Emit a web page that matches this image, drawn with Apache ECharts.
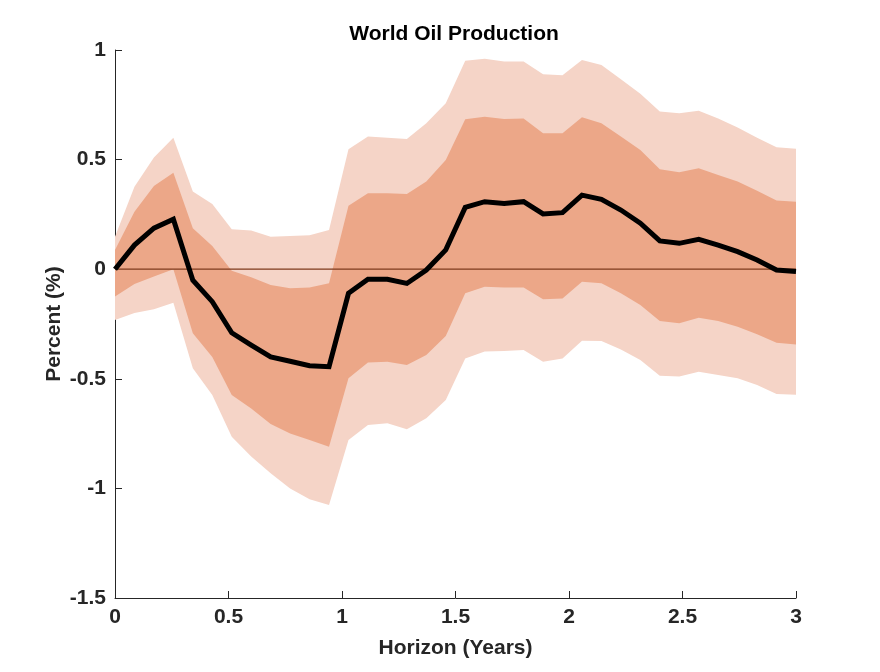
<!DOCTYPE html>
<html>
<head>
<meta charset="utf-8">
<script src="https://cdn.jsdelivr.net/npm/echarts@6/dist/echarts.min.js"></script>
<style>
html,body{margin:0;padding:0;background:#fff;}
#c{width:880px;height:672px;}
</style>
</head>
<body>
<div id="c"></div>
<script>
// Horizon in years: 36 points from 0 to 3
const N = 36;
const horizon = Array.from({length: N}, (_, i) => 3 * i / (N - 1));

const median = [0, 0.11, 0.187, 0.228, -0.05, -0.148, -0.29, -0.346, -0.40, -0.42, -0.44, -0.445,
  -0.11, -0.046, -0.046, -0.065, -0.004, 0.088, 0.282, 0.308, 0.30, 0.308, 0.252, 0.258,
  0.338, 0.319, 0.27, 0.21, 0.129, 0.118, 0.136, 0.11, 0.08, 0.042, -0.004, -0.011];

const innerUpper = [0.088, 0.262, 0.38, 0.44, 0.187, 0.106, -0.007, -0.037, -0.072, -0.087, -0.084, -0.064,
  0.29, 0.346, 0.346, 0.343, 0.40, 0.498, 0.684, 0.696, 0.685, 0.687, 0.62, 0.62,
  0.693, 0.666, 0.605, 0.544, 0.456, 0.442, 0.46, 0.43, 0.40, 0.358, 0.313, 0.308];

const innerLower = [-0.125, -0.068, -0.033, 0.0, -0.292, -0.40, -0.574, -0.635, -0.706, -0.749, -0.779, -0.81,
  -0.498, -0.426, -0.422, -0.437, -0.391, -0.305, -0.11, -0.08, -0.084, -0.084, -0.137, -0.134,
  -0.057, -0.064, -0.11, -0.163, -0.236, -0.247, -0.221, -0.236, -0.262, -0.297, -0.335, -0.343];

const outerUpper = [0.148, 0.376, 0.51, 0.60, 0.354, 0.297, 0.182, 0.176, 0.148, 0.151, 0.155, 0.179,
  0.547, 0.605, 0.60, 0.594, 0.666, 0.757, 0.951, 0.96, 0.948, 0.948, 0.889, 0.885,
  0.954, 0.932, 0.866, 0.80, 0.719, 0.711, 0.723, 0.688, 0.647, 0.60, 0.556, 0.55];

const outerLower = [-0.232, -0.20, -0.183, -0.153, -0.452, -0.574, -0.764, -0.855, -0.931, -1.0, -1.05, -1.076,
  -0.779, -0.711, -0.703, -0.73, -0.68, -0.597, -0.407, -0.376, -0.373, -0.369, -0.422, -0.407,
  -0.326, -0.328, -0.366, -0.414, -0.486, -0.49, -0.468, -0.483, -0.498, -0.528, -0.569, -0.573];

const xTicks = [0, 0.5, 1, 1.5, 2, 2.5, 3];
const yTicks = [-1.5, -1, -0.5, 0, 0.5, 1];

const LIGHT = '#F5D4C7';
const DARK = '#ECA788';
const TXT = '#262626';
const FONT = '"Liberation Sans", Arial, Helvetica, sans-serif';

const pairs = arr => horizon.map((x, i) => [x, arr[i]]);
const bandRows = (lo, hi) => horizon.map((x, i) => [x, lo[i], hi[i]]);

function bandSeries(name, lo, hi, color, z) {
  return {
    type: 'custom', name, silent: true, z,
    data: bandRows(lo, hi),
    encode: {x: 0, y: [1, 2]},
    renderItem: (params, api) => {
      if (params.dataIndex !== 0) return null;
      const top = [], bottom = [];
      for (let i = 0; i < horizon.length; i++) {
        top.push(api.coord([horizon[i], hi[i]]));
        bottom.push(api.coord([horizon[i], lo[i]]));
      }
      return {
        type: 'polygon',
        shape: {points: top.concat(bottom.reverse())},
        style: {fill: color, stroke: null}
      };
    }
  };
}

const chart = echarts.init(document.getElementById('c'), null, {renderer: 'canvas'});
chart.setOption({
  animation: false,
  backgroundColor: '#ffffff',
  title: {
    text: 'World Oil Production', left: 449, top: 19, textAlign: 'center',
    textStyle: {fontFamily: FONT, fontWeight: 'bold', fontSize: 21, color: '#000'}
  },
  grid: {left: 115, right: 84, top: 50, bottom: 74, containLabel: false},
  xAxis: {
    type: 'value', min: 0, max: 3, interval: 0.5,
    name: 'Horizon (Years)', nameLocation: 'middle', nameGap: 40, nameMoveOverlap: false,
    nameTextStyle: {fontFamily: FONT, fontWeight: 'bold', fontSize: 21, color: TXT},
    axisLine: {show: true, onZero: false, lineStyle: {color: TXT, width: 1}},
    axisTick: {show: true, inside: true, length: 7, lineStyle: {color: TXT}},
    axisLabel: {fontFamily: FONT, fontWeight: 'bold', fontSize: 21, color: TXT, margin: 9,
      formatter: v => String(xTicks.find(t => Math.abs(t - v) < 1e-9) ?? v)},
    splitLine: {show: false}
  },
  yAxis: {
    type: 'value', min: -1.5, max: 1, interval: 0.5,
    name: 'Percent (%)', nameLocation: 'middle', nameGap: 50, nameMoveOverlap: false,
    nameTextStyle: {fontFamily: FONT, fontWeight: 'bold', fontSize: 21, color: TXT},
    axisLine: {show: true, onZero: false, lineStyle: {color: TXT, width: 1}},
    axisTick: {show: true, inside: true, length: 7, lineStyle: {color: TXT}},
    axisLabel: {fontFamily: FONT, fontWeight: 'bold', fontSize: 21, color: TXT, margin: 9,
      formatter: v => String(yTicks.find(t => Math.abs(t - v) < 1e-9) ?? v)},
    splitLine: {show: false}
  },
  series: [
    bandSeries('outer', outerLower, outerUpper, LIGHT, 1),
    bandSeries('inner', innerLower, innerUpper, DARK, 2),
    {
      type: 'line', name: 'zero', data: [[0, 0], [3, 0]], symbol: 'none', silent: true, z: 3,
      lineStyle: {color: '#7E3A1C', width: 1.3}
    },
    {
      type: 'line', name: 'median', data: pairs(median), symbol: 'none', z: 4,
      lineStyle: {color: '#000', width: 5, join: 'miter'}
    }
  ]
});
</script>
</body>
</html>
